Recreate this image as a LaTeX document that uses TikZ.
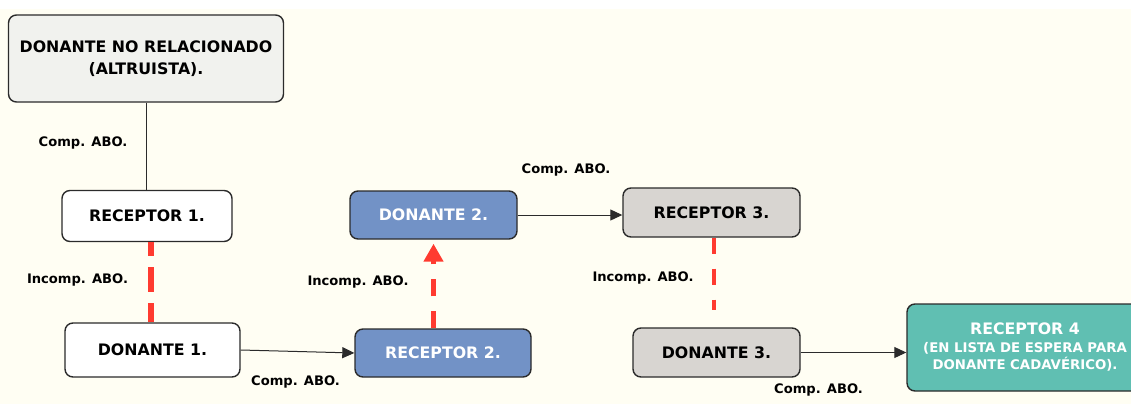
\documentclass[tikz,border=0pt]{standalone}
\usepackage{fontspec}
\setmainfont{DejaVu Sans}
\usetikzlibrary{arrows.meta}
\definecolor{cream}{HTML}{FFFEF3}
\definecolor{boxline}{HTML}{2B2B2B}
\definecolor{altfill}{HTML}{F1F2EE}
\definecolor{bluebox}{HTML}{7292C6}
\definecolor{graybox}{HTML}{D8D5D1}
\definecolor{tealbox}{HTML}{60BFB2}
\definecolor{redline}{HTML}{FF3B30}
\newcommand{\bigtxt}{\fontsize{15.8}{22}\selectfont}
\newcommand{\smalltxt}{\fontsize{13.3}{17.5}\selectfont}
\tikzset{
  box/.style={draw=boxline, line width=1.4pt, rounded corners=8pt, align=center,
    inner sep=0pt, font=\bigtxt\bfseries},
  whitebox/.style={box, fill=white},
  bluenode/.style={box, fill=bluebox, text=white},
  graynode/.style={box, fill=graybox},
  tealnode/.style={box, fill=tealbox, text=white},
  lbl/.style={font=\fontsize{13.1}{15}\selectfont\bfseries, inner sep=0pt},
  conn/.style={draw=boxline, line width=1pt},
  arr/.style={conn, -{Triangle[length=12pt,width=11pt]}},
  reddash/.style={draw=redline, line width=6pt, dash pattern=on 25pt off 11pt, dash phase=11pt},
  reddashmid/.style={draw=redline, line width=4.5pt, dash pattern=on 17pt off 15pt},
  reddashthin/.style={draw=redline, line width=4pt, dash pattern=on 16pt off 15pt},
  redarr/.style={reddashmid, -{Triangle[length=18pt,width=19pt]}},
}
\begin{document}
\begin{tikzpicture}[x=1pt,y=-1pt]
\useasboundingbox (0,0) rectangle (1131,404);
\fill[white] (0,0) rectangle (1131,404);
\fill[cream] (0,9) rectangle (1131,404);

\node[box, fill=altfill, minimum width=275pt, minimum height=87pt] (alt) at (146,58.5)
  {DONANTE NO RELACIONADO\\(ALTRUISTA).};
\node[whitebox, minimum width=170pt, minimum height=51pt] (r1) at (147,216) {RECEPTOR 1.};
\node[whitebox, minimum width=175pt, minimum height=54pt] (d1) at (152.5,350) {DONANTE 1.};
\node[bluenode, minimum width=176pt, minimum height=48pt] (r2) at (443,353) {RECEPTOR 2.};
\node[bluenode, minimum width=167pt, minimum height=48pt] (d2) at (433.5,215) {DONANTE 2.};
\node[graynode, minimum width=177pt, minimum height=49pt] (r3) at (711.5,212.5) {RECEPTOR 3.};
\node[graynode, minimum width=167pt, minimum height=49pt] (d3) at (716.5,352.5) {DONANTE 3.};
\node[tealnode, minimum width=236pt, minimum height=87pt] (r4) at (1025,347.5)
  {\bigtxt RECEPTOR 4\\[-4.5pt]\smalltxt (EN LISTA DE ESPERA PARA\\[-4.5pt]\smalltxt DONANTE CADAVÉRICO).};

\draw[conn] (alt.south) -- (alt.south |- r1.north);
\draw[reddash] ([xshift=4pt]r1.south) -- ([xshift=4pt]r1.south |- d1.north);
\draw[arr] (d1.east) -- (r2.west);
\draw[redarr, shorten >=4pt] (d2.south |- r2.north) -- (d2.south);
\draw[arr] (d2.east) -- (d2.east -| r3.west);
\draw[reddashthin, shorten >=17pt] ([xshift=-2.5pt]d3.north |- r3.south) -- ([xshift=-2.5pt]d3.north);
\draw[arr] (d3.east) -- (d3.east -| r4.west);

\node[lbl] (l1) at (83,143) {Comp. ABO.};
\node[lbl] (l2) at (77.5,280) {Incomp. ABO.};
\node[lbl] (l3) at (295.5,382) {Comp. ABO.};
\node[lbl] (l4) at (358,282) {Incomp. ABO.};
\node[lbl] (l5) at (566,170) {Comp. ABO.};
\node[lbl] (l6) at (643,278) {Incomp. ABO.};
\node[lbl] (l7) at (818.5,390) {Comp. ABO.};
\end{tikzpicture}
\end{document}
